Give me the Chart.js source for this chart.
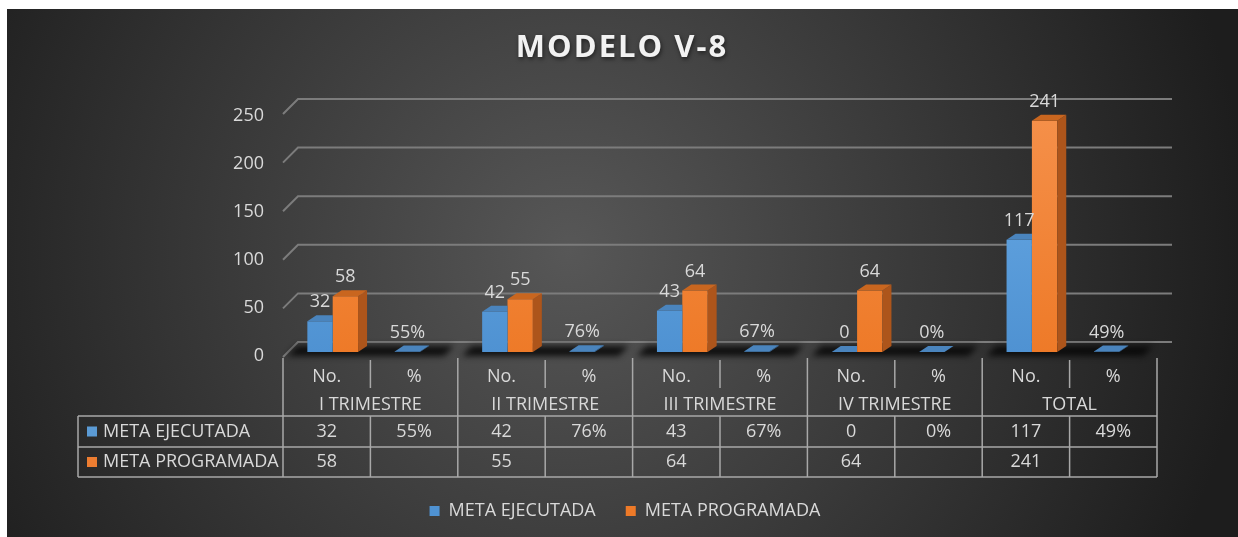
<!DOCTYPE html>
<html>
<head>
<meta charset="utf-8">
<script src="https://cdn.jsdelivr.net/npm/chart.js@4.4.1/dist/chart.umd.min.js"></script>
<style>
  html, body { margin: 0; padding: 0; background: #fff; }
  #wrap { width: 1238px; height: 537px; }
</style>
</head>
<body>
<div id="wrap"><canvas id="speedChart" width="1238" height="537"></canvas></div>
<script>
var theChart = undefined;

// data
var categories = ["No.", "%", "No.", "%", "No.", "%", "No.", "%", "No.", "%"];
var groupLabels = ["I TRIMESTRE", "II TRIMESTRE", "III TRIMESTRE", "IV TRIMESTRE", "TOTAL"];
var seriesNames = ["META EJECUTADA", "META PROGRAMADA"];
var metaEjecutada = [32, 0.55, 42, 0.76, 43, 0.67, 0, 0, 117, 0.49];
var metaProgramada = [58, null, 55, null, 64, null, 64, null, 241, null];
var yTicks = [0, 50, 100, 150, 200, 250];
var chartTitle = "MODELO V-8";

var FONT = "'Open Sans', sans-serif";
var txtColor = "#d9d9d9";
var seriesColors = ["#5b9bd5", "#ed7d31"];
var topColors = ["#4a84bd", "#c9661f"];
var sideColors = ["#3c6c9b", "#ad551b"];
var SHIFT = 6;     // bars sit a bit right of the table columns (3d)
var DX = 9, DY = 6; // bar depth

function fmt(i, v) {
  if (v === null || v === undefined) return "";
  if (categories[i] === "%") return Math.round(v * 100) + "%";
  return String(v);
}

function frontFill(c1, c2) {
  return function(c) {
    var a = c.chart.chartArea;
    if (!a) return c2;
    var g = c.chart.ctx.createLinearGradient(0, a.top, 0, a.bottom);
    g.addColorStop(0, c1);
    g.addColorStop(1, c2);
    return g;
  };
}

function poly(ctx, pts) {
  ctx.beginPath();
  ctx.moveTo(pts[0][0], pts[0][1]);
  for (var k = 1; k < pts.length; k++) ctx.lineTo(pts[k][0], pts[k][1]);
  ctx.closePath();
  ctx.fill();
}

var bgPlugin = {
  id: 'bg',
  beforeDraw: function(chart) {
    var ctx = chart.ctx;
    ctx.save();
    ctx.fillStyle = "#ffffff";
    ctx.fillRect(0, 0, chart.width, chart.height);
    var g = ctx.createRadialGradient(570, 250, 0, 570, 250, 680);
    g.addColorStop(0, "#575757");
    g.addColorStop(1, "#1d1d1d");
    ctx.fillStyle = g;
    ctx.fillRect(7, 9, chart.width - 7, chart.height - 9);
    ctx.restore();
  }
};

// title with a bit of letter spacing, like the original
var titlePlugin = {
  id: 'spacedTitle',
  afterDraw: function(chart) {
    var ctx = chart.ctx;
    ctx.save();
    ctx.font = "bold 31px " + FONT;
    ctx.letterSpacing = "2px";
    ctx.textAlign = "center";
    ctx.textBaseline = "middle";
    ctx.shadowColor = "rgba(0,0,0,0.55)";
    ctx.shadowBlur = 4;
    ctx.shadowOffsetX = 1;
    ctx.shadowOffsetY = 2;
    ctx.fillStyle = "#f2f2f2";
    ctx.fillText(chartTitle, 622, 48);
    ctx.restore();
  }
};

// back wall gridlines, left side wall and floor shadows
var wallPlugin = {
  id: 'wall',
  beforeDatasetsDraw: function(chart) {
    var ctx = chart.ctx, ys = chart.scales.y, xs = chart.scales.x;
    var L = xs.left - SHIFT, R = xs.right - SHIFT;
    ctx.save();
    ctx.strokeStyle = "#7c7c7c";
    ctx.lineWidth = 2;
    yTicks.forEach(function(v) {
      var back = ys.getPixelForValue(v) - 10 - 3 * v / 250;
      ctx.beginPath();
      ctx.moveTo(L, back + 15);
      ctx.lineTo(L + 15, back);
      ctx.lineTo(R + 15, back);
      ctx.stroke();
    });
    // floor shadows under each group
    var base = ys.getPixelForValue(0);
    var w = (xs.right - xs.left) / categories.length;
    ctx.filter = "blur(3px)";
    ctx.fillStyle = "rgba(8,8,8,0.9)";
    for (var gI = 0; gI < groupLabels.length; gI++) {
      var gl = L + gI * 2 * w + 4, gr = L + (gI + 1) * 2 * w - 14;
      poly(ctx, [[gl, base + 4], [gl + 10, base - 6], [gr + 10, base - 6], [gr, base + 4]]);
    }
    ctx.restore();
  }
};

// top and side faces; orange is drawn first, blue ones are clipped at the orange front
var bars3dPlugin = {
  id: 'bars3d',
  afterDatasetDraw: function(chart, args) {
    var ctx = chart.ctx, di = args.index;
    var data = chart.data.datasets[di].data;
    args.meta.data.forEach(function(bar, i) {
      if (data[i] === null) return;
      var p = bar.getProps(['x', 'y', 'base', 'width'], true);
      var l = p.x - p.width / 2, r = p.x + p.width / 2;
      ctx.save();
      if (di === 0 && metaProgramada[i] !== null) {
        ctx.beginPath();
        ctx.rect(0, 0, r, chart.height);
        ctx.clip();
      }
      ctx.fillStyle = sideColors[di];
      poly(ctx, [[r, p.y], [r + DX, p.y - DY], [r + DX, p.base - DY], [r, p.base]]);
      ctx.fillStyle = topColors[di];
      poly(ctx, [[l, p.y], [l + DX, p.y - DY], [r + DX, p.y - DY], [r, p.y]]);
      ctx.restore();
    });
  }
};

var labelPlugin = {
  id: 'valueLabels',
  afterDatasetsDraw: function(chart) {
    var ctx = chart.ctx;
    ctx.save();
    ctx.font = "18px " + FONT;
    ctx.fillStyle = txtColor;
    ctx.textAlign = "center";
    ctx.textBaseline = "middle";
    chart.data.datasets.forEach(function(ds, di) {
      chart.getDatasetMeta(di).data.forEach(function(bar, i) {
        var v = ds.data[i];
        if (v === null) return;
        ctx.fillText(fmt(i, v), bar.x, bar.y - 19);
      });
    });
    ctx.restore();
  }
};

var tablePlugin = {
  id: 'dataTable',
  afterDraw: function(chart) {
    var ctx = chart.ctx, xs = chart.scales.x, ys = chart.scales.y;
    var base = ys.getPixelForValue(0);
    var w = (xs.right - xs.left) / categories.length;
    var L = xs.left - SHIFT, R = xs.right - SHIFT;
    var tabLeft = 78;
    var r1 = base + 64, r2 = base + 95, r3 = base + 125;
    ctx.save();
    ctx.strokeStyle = "#a8a8a8";
    ctx.lineWidth = 1.5;
    ctx.beginPath();
    [r1, r2, r3].forEach(function(y) { ctx.moveTo(tabLeft, y); ctx.lineTo(R, y); });
    ctx.moveTo(tabLeft, r1); ctx.lineTo(tabLeft, r3);
    for (var i = 0; i <= categories.length; i++) {
      var x = L + i * w;
      if (i % 2 === 0) { ctx.moveTo(x, base + 6); ctx.lineTo(x, r3); }
      else { ctx.moveTo(x, base + 8); ctx.lineTo(x, base + 36); ctx.moveTo(x, r1); ctx.lineTo(x, r3); }
    }
    ctx.stroke();

    ctx.font = "18px " + FONT;
    ctx.fillStyle = txtColor;
    ctx.textAlign = "center";
    ctx.textBaseline = "middle";
    categories.forEach(function(c, i) {
      var cx = L + (i + 0.5) * w;
      ctx.fillText(c, cx, base + 25);
      ctx.fillText(fmt(i, metaEjecutada[i]), cx, (r1 + r2) / 2);
      ctx.fillText(fmt(i, metaProgramada[i]), cx, (r2 + r3) / 2);
    });
    groupLabels.forEach(function(g, k) {
      ctx.fillText(g, L + (k * 2 + 1) * w, base + 53);
    });
    ctx.textAlign = "left";
    seriesNames.forEach(function(n, k) {
      var cy = k === 0 ? (r1 + r2) / 2 : (r2 + r3) / 2;
      ctx.fillStyle = seriesColors[k];
      ctx.fillRect(87, cy - 5, 10, 10);
      ctx.fillStyle = txtColor;
      ctx.fillText(n, 103, cy);
    });
    ctx.restore();
  }
};

function displayData() {
  var ctx = document.getElementById("speedChart");
  theChart = new Chart(ctx, {
    type: 'bar',
    data: {
      labels: categories,
      datasets: [
        { label: seriesNames[0], data: metaEjecutada,
          backgroundColor: frontFill("#6aabe6", "#4f92d2") },
        { label: seriesNames[1], data: metaProgramada,
          backgroundColor: frontFill("#f5904a", "#ee7a28") }
      ]
    },
    options: {
      responsive: false,
      animation: false,
      events: [],
      categoryPercentage: 0.58,
      barPercentage: 1.0,
      layout: { padding: { top: 112, left: 12, right: 0, bottom: 7 } },
      scales: {
        x: {
          grid: { display: false },
          border: { display: false },
          ticks: { display: false },
          afterFit: function(s) { s.height = 120; }
        },
        y: {
          min: 0, max: 250,
          afterBuildTicks: function(s) { s.ticks = yTicks.map(function(v) { return { value: v }; }); },
          grid: { display: false, drawTicks: false },
          border: { display: false },
          ticks: { color: txtColor, font: { size: 18, family: FONT }, padding: 25, labelOffset: 4 },
          afterFit: function(s) { s.width = 277; }
        },
        yRight: {
          type: 'linear', position: 'right',
          grid: { display: false, drawTicks: false },
          border: { display: false },
          ticks: { display: false },
          afterFit: function(s) { s.width = 75; }
        }
      },
      plugins: {
        title: { display: false },
        legend: {
          position: 'bottom',
          labels: {
            color: txtColor,
            font: { size: 18, family: FONT },
            boxWidth: 10, boxHeight: 10,
            padding: 30
          }
        },
        tooltip: { enabled: false }
      }
    },
    plugins: [bgPlugin, wallPlugin, bars3dPlugin, labelPlugin, tablePlugin, titlePlugin]
  });
}

displayData();
</script>
</body>
</html>
